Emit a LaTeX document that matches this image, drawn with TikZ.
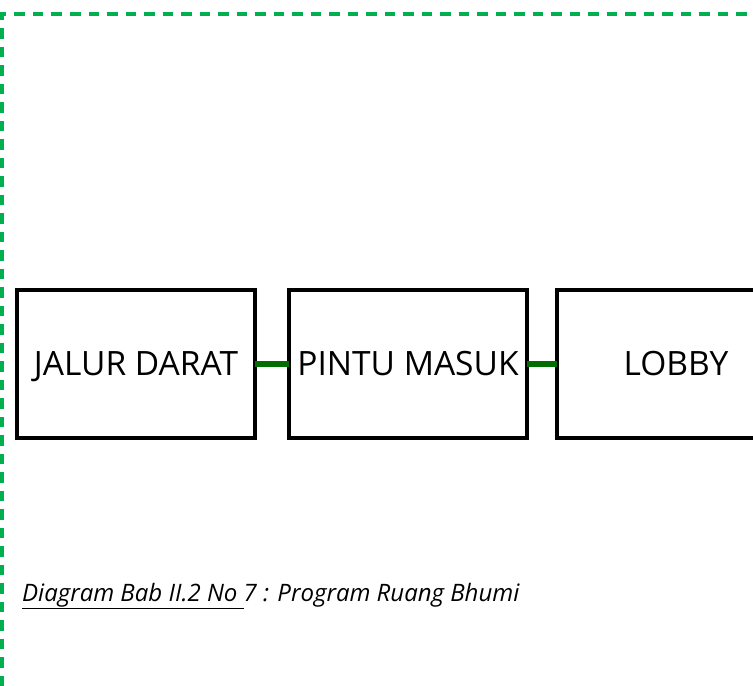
\documentclass[tikz,border=0pt]{standalone}
\usepackage{fontspec}
\setmainfont{Open Sans}
\definecolor{borderg}{RGB}{0,176,80}
\definecolor{linkg}{RGB}{0,110,0}
\newcommand{\thickul}[1]{\underline{#1}}
\begin{document}
\begin{tikzpicture}[x=1pt,y=-1pt,
  roombox/.style={draw=black,line width=3.4pt,minimum width=238pt,minimum height=148pt,inner sep=0pt,outer sep=0pt,anchor=north west,text height=23.9pt,text depth=0pt,font=\fontsize{33.5}{38}\selectfont},
  link/.style={draw=linkg,line width=5.5pt},
  frameline/.style={draw=borderg,line width=3.2pt,dash pattern=on 10.5pt off 8pt}]
\useasboundingbox (0,0) rectangle (753,686);
\clip (0,0) rectangle (753,686);
\draw[frameline] (2,686) -- (2,14) -- (753,14);
\node[roombox] (jalur) at (17,290) {JALUR DARAT};
\node[roombox] (pintu) at (289,290) {PINTU MASUK};
\node[roombox] (lobby) at (557,290) {LOBBY};
\draw[link] (jalur.east) -- (pintu.west);
\draw[link] (pintu.east) -- (lobby.west);
\node[anchor=base west,inner sep=0pt,font=\fontsize{24}{28}\selectfont\itshape] (cap) at (22,601)
  {\setlength{\fboxrule}{0pt}\thickul{Diagram Bab II.2 No }7 : Program Ruang Bhumi};
\end{tikzpicture}
\end{document}
